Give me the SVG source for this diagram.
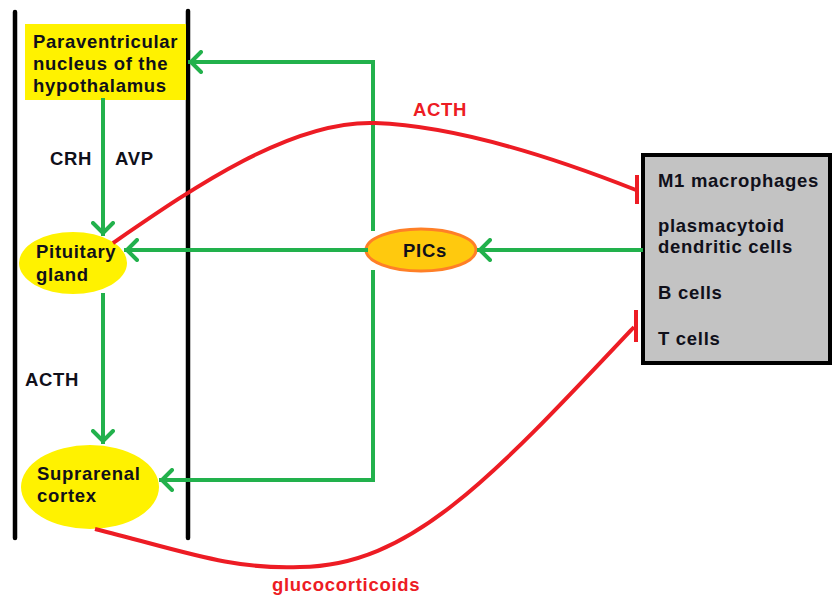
<svg xmlns="http://www.w3.org/2000/svg" width="832" height="596" viewBox="0 0 832 596">
<defs>
<style>
text{font-family:"Liberation Sans",Arial,sans-serif;font-weight:bold;font-size:18.5px;letter-spacing:0.7px;fill:#10101a}
.red{fill:#ED1C24}
.g{stroke:#22B14C;stroke-width:4;fill:none;stroke-linecap:square}
.r{stroke:#ED1C24;stroke-width:4;fill:none}
.bl{stroke:#000;stroke-width:4.5;stroke-linecap:round}
</style>
<marker id="ah" viewBox="0 0 14 24" refX="13" refY="12" markerWidth="14" markerHeight="24" markerUnits="userSpaceOnUse" orient="auto">
<polyline points="2,2 12,12 2,22" fill="none" stroke="#22B14C" stroke-width="4" stroke-linecap="round" stroke-linejoin="round"/>
</marker>
</defs>
<rect width="832" height="596" fill="#fff"/>
<g id="borders">
<line class="bl" x1="15" y1="12" x2="15" y2="538"/>
<line class="bl" x1="188" y1="11" x2="188" y2="538"/>
</g>
<g id="pvn">
<rect x="25" y="24" width="161" height="76" fill="#FFF200"/>
<text x="33" y="48">Paraventricular</text>
<text x="33" y="70">nucleus of the</text>
<text x="33" y="92">hypothalamus</text>
</g>
<g id="pituitary">
<ellipse cx="73" cy="263" rx="54" ry="31" fill="#FFF200"/>
<text x="36" y="258">Pituitary</text>
<text x="36" y="281">gland</text>
</g>
<g id="suprarenal">
<ellipse cx="90" cy="487" rx="69" ry="42" fill="#FFF200"/>
<text x="37" y="480">Suprarenal</text>
<text x="37" y="502">cortex</text>
</g>
<g id="pics">
<ellipse cx="421" cy="250" rx="55" ry="21" fill="#FFC90E" stroke="#FF7F27" stroke-width="3"/>
<text x="403" y="257">PICs</text>
</g>
<g id="immune">
<rect x="643" y="155" width="187" height="208" fill="#C3C3C3" stroke="#000" stroke-width="4"/>
<text x="658" y="187">M1 macrophages</text>
<text x="658" y="232">plasmacytoid</text>
<text x="658" y="253">dendritic cells</text>
<text x="658" y="299">B cells</text>
<text x="658" y="345">T cells</text>
</g>
<g id="connectors">
<path class="g" d="M103,100 V234" marker-end="url(#ah)"/>
<path class="g" d="M103,295 V442" marker-end="url(#ah)"/>
<path class="g" d="M366,250 H126" marker-end="url(#ah)"/>
<path class="g" d="M641,250 H479" marker-end="url(#ah)"/>
<path class="g" d="M373,229 V62 H190" marker-end="url(#ah)"/>
<path class="g" d="M373,272 V480 H161" marker-end="url(#ah)"/>
<path class="r" d="M113,243 C190,190 290,120 375,123 C460,126 560,160 636,190"/>
<line class="r" x1="637" y1="175" x2="637" y2="204"/>
<path class="r" d="M95,529 C180,550 230,570 300,567 C410,566 490,480 634,327"/>
<line class="r" x1="636" y1="310" x2="636" y2="342"/>
</g>
<g id="labels">
<text x="50" y="165">CRH</text>
<text x="115" y="165">AVP</text>
<text x="25" y="386">ACTH</text>
<text class="red" x="413" y="116">ACTH</text>
<text class="red" x="272" y="591">glucocorticoids</text>
</g>
</svg>
